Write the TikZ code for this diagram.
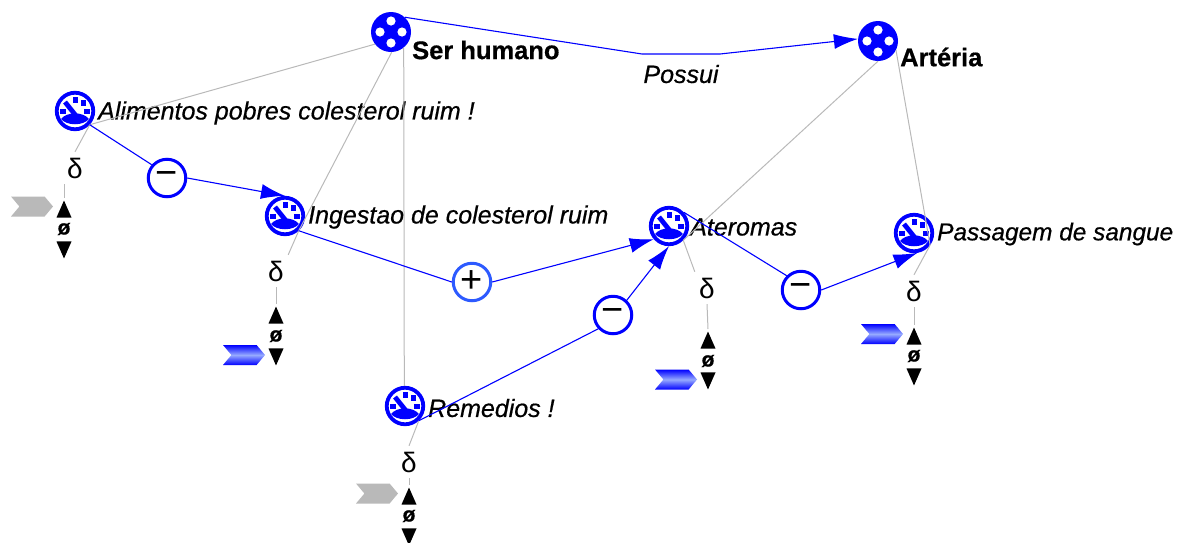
\documentclass[tikz,border=0pt]{standalone}
\usepackage{fontspec}
\setmainfont{Liberation Sans}[ItalicFeatures={FakeBold=0.6}, BoldFeatures={FakeBold=0.6}]
\usetikzlibrary{arrows.meta,shapes.geometric,shapes.symbols}
\definecolor{linkblue}{RGB}{0,0,255}
\definecolor{plusblue}{RGB}{45,90,255}
\definecolor{linkgrey}{RGB}{185,185,185}
\definecolor{tagshine}{RGB}{150,170,255}
\tikzset{
    gauge/.style={circle, draw=linkblue, line width=3.8pt, fill=white, inner sep=0pt, minimum size=36.5pt, path picture={
        \begin{scope}[shift={(path picture bounding box.center)}]
            \draw [linkblue, line width=4.8pt] (-10,-9) -- (2,6);
            \fill [linkblue] (-14,8) .. controls (-8,0.5) and (8,0.5) .. (14,8) .. controls (8,15) and (-8,15) .. (-14,8);
            \fill [linkblue, rotate around={-20:(-12,0)}] (-15,-2.5) rectangle (-9,2.5);
            \fill [linkblue] (-2.5,-14) rectangle (2.5,-8);
            \fill [linkblue, rotate around={35:(8,-8)}] (5.5,-11) rectangle (10.5,-5);
            \fill [linkblue, rotate around={20:(12,0)}] (9,-2.5) rectangle (15,2.5);
        \end{scope}}},
    classdot/.style={circle, fill=linkblue, inner sep=0pt, minimum size=40pt, path picture={
        \begin{scope}[shift={(path picture bounding box.center)}]
            \fill [white] (0,-11) circle (4.6) (-11,0) circle (4.6) (11,0) circle (4.6) (0,11) circle (4.6);
        \end{scope}}},
    signnode/.style={circle, draw=linkblue, line width=3pt, fill=white, inner sep=0pt, minimum size=37.5pt, font=\fontsize{38}{38}\selectfont},
    deltanode/.style={inner sep=0pt, minimum width=24pt, minimum height=32pt, font=\fontsize{28}{28}\selectfont},
    tagnode/.style={signal, signal to=east, signal from=west, signal pointer angle=100, inner sep=0pt, minimum width=42pt, minimum height=20pt},
    greytag/.style={tagnode, fill=linkgrey},
    bluetag/.style={tagnode, top color=linkblue, bottom color=linkblue, middle color=tagshine},
    upmark/.style={isosceles triangle, isosceles triangle stretches, shape border rotate=90, anchor=apex, fill=black, inner sep=0pt, minimum width=15pt, minimum height=17pt},
    downmark/.style={upmark, shape border rotate=-90},
    nullmark/.style={inner sep=0pt, font=\bfseries\fontsize{21}{21}\selectfont},
    stateword/.style={anchor=west, inner sep=0pt, font=\itshape\fontsize{25}{25}\selectfont},
    classword/.style={anchor=west, inner sep=0pt, font=\bfseries\fontsize{25.5}{25.5}\selectfont},
    greyline/.style={draw=linkgrey, line width=1pt},
    blueline/.style={draw=linkblue, line width=1.1pt},
    bluearrow/.style={blueline, -{Latex[length=24pt,width=15pt]}}
}
\begin{document}
\begin{tikzpicture}[x=1pt, y=-1pt]
    \useasboundingbox (0,0) rectangle (1178,542);
    \node [classdot] (serhumano) at (391,32) {};
    \node [classdot] (arteria) at (878,41) {};
    \node [gauge] (alimentos) at (75,111) {};
    \node [gauge] (ingestao) at (285,216) {};
    \node [gauge] (ateromas) at (669,226) {};
    \node [gauge] (passagem) at (914,233) {};
    \node [gauge] (remedios) at (405,406) {};
    \node [signnode] (minusa) at (167,178) {\raisebox{-2pt}{−}};
    \node [signnode, draw=plusblue] (plusa) at (472,282) {+};
    \node [signnode] (minusb) at (613,315) {\raisebox{-2pt}{−}};
    \node [signnode] (minusc) at (801,290) {\raisebox{-2pt}{−}};
    \node [classword] (serword) at (412,50) {Ser humano};
    \node [classword] (arteriaword) at (900,57) {Artéria};
    \node [stateword] (alimentosword) at (98,113) {Alimentos pobres colesterol ruim !};
    \node [stateword] (ingestaoword) at (308,217) {Ingestao de colesterol ruim};
    \node [stateword] (ateromasword) at (690,227) {Ateromas};
    \node [stateword, font=\itshape\fontsize{24.4}{24.4}\selectfont] (passagemword) at (937,234) {Passagem de sangue};
    \node [stateword] (remediosword) at (428,408) {Remedios !};
    \node [deltanode] (deltaa) at (75,168) {δ};
    \node [deltanode] (deltab) at (276,271) {δ};
    \node [deltanode] (deltac) at (409,462) {δ};
    \node [deltanode] (deltad) at (707,288) {δ};
    \node [deltanode] (deltae) at (914,291) {δ};
    \node [upmark] (upa) at (64,200) {};
    \node [nullmark] (nulla) at (64,229) {ø};
    \node [downmark] (downa) at (64,259) {};
    \node [greytag] (taga) at (32,206.5) {};
    \node [upmark] (upb) at (276,306) {};
    \node [nullmark] (nullb) at (276,336) {ø};
    \node [downmark] (downb) at (276,366) {};
    \node [bluetag] (tagb) at (244,355) {};
    \node [upmark] (upc) at (409,487) {};
    \node [nullmark] (nullc) at (409,516) {ø};
    \node [downmark] (downc) at (409,546) {};
    \node [greytag] (tagc) at (377,493.5) {};
    \node [upmark] (upd) at (708,331) {};
    \node [nullmark] (nulld) at (708,361) {ø};
    \node [downmark] (downd) at (708,390) {};
    \node [bluetag] (tagd) at (676,379.5) {};
    \node [upmark] (upe) at (914,327) {};
    \node [nullmark] (nulle) at (914,356) {ø};
    \node [downmark] (downe) at (914,386) {};
    \node [bluetag] (tage) at (882,334) {};
    \coordinate (bendleft) at (642,54);
    \coordinate (bendright) at (720,54);
    \node [stateword, anchor=center] (possui) at (681,74) {Possui};
    \path [greyline] (serhumano.217) -- (alimentos.-43);
    \path [greyline] (serhumano.-88) -- (ingestao.-47);
    \path [greyline] (serhumano.-51) -- (remedios.92);
    \path [greyline] (arteria.-90) -- (ateromas.-45);
    \path [greyline] (arteria.-27) -- (passagem.-37);
    \path [greyline] (alimentos.-43) -- (deltaa.north);
    \path [greyline] (ingestao.-47) -- (deltab.north east);
    \path [greyline] (remedios.-47) -- (deltac.north);
    \path [greyline] (ateromas.-45) -- (deltad.north west);
    \path [greyline] (passagem.-37) -- (deltae.north);
    \path [greyline] (upa.apex |- deltaa.south) -- ([yshift=2pt]upa.apex);
    \path [greyline] (deltab.south) -- ([yshift=2pt]upb.apex);
    \path [greyline] (deltac.south) -- ([yshift=2pt]upc.apex);
    \path [greyline] (deltad.south) -- ([yshift=2pt]upd.apex);
    \path [greyline] (deltae.south) -- ([yshift=2pt]upe.apex);
    \path [bluearrow] (serhumano.47) -- (bendleft) -- (bendright) -- (arteria.174);
    \path [blueline] (alimentos.-43) -- (minusa.139);
    \path [bluearrow] (minusa.east) -- (ingestao.north);
    \path [blueline] (ingestao.-47) -- (plusa.west);
    \path [bluearrow] (plusa.east) -- (ateromas.-139);
    \path [blueline] (remedios.-47) -- (minusb.223);
    \path [bluearrow] (minusb.47) -- (ateromas.-90);
    \path [blueline] (ateromas.43) -- (minusc.135);
    \path [bluearrow] (minusc.east) -- (passagem.-80);
\end{tikzpicture}
\end{document}
